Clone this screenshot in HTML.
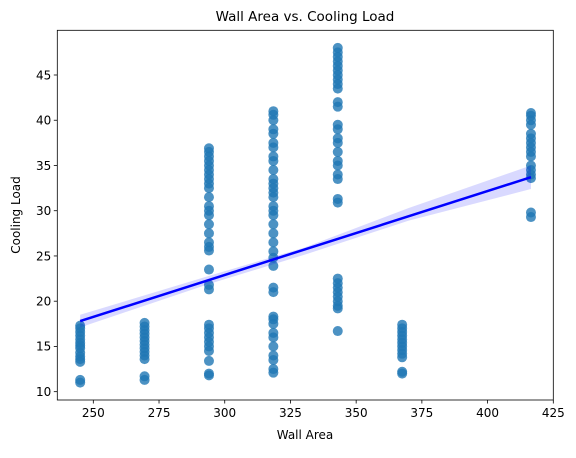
<!DOCTYPE html>
<html><head><meta charset="utf-8"><style>
body{margin:0;background:#fff;font-family:"Liberation Sans","DejaVu Sans",sans-serif}
svg text{font-family:"DejaVu Sans","Liberation Sans",sans-serif;fill:#000}
</style></head><body>
<svg id="chart" width="576" height="453">
<text x="305" y="21" font-size="13.5" text-anchor="middle">Wall Area vs. Cooling Load</text>
<g id="plot"></g>
<text x="305" y="439" font-size="12" text-anchor="middle">Wall Area</text>
<text transform="translate(20,215) rotate(-90)" font-size="12" text-anchor="middle">Cooling Load</text>
</svg>
<script>
const categories=[245,269.5,294,318.5,343,367.5,416.5];
const loads=[
[11,11.3,13.3,13.6,13.9,14.3,14.8,15.1,15.4,15.8,16.2,16.6,17.0,17.3],
[11.3,11.7,13.6,14.0,14.4,14.8,15.2,15.6,16.0,16.4,16.8,17.2,17.6],
[11.8,12.0,13.4,14.5,15.0,15.5,16.0,16.5,17.0,17.4,21.3,21.8,23.5,25.6,26.0,26.5,27.5,28.5,29.5,30.0,30.5,31.5,32.5,33.0,33.5,34.0,34.5,35.0,35.5,36.0,36.5,36.9],
[12.1,12.5,13.5,14.0,15.0,16.0,16.5,17.5,18.0,18.3,21.0,21.5,23.9,24.8,25.5,26.5,27.5,28.5,29.5,30.0,30.5,31.5,32.0,32.5,33.0,33.5,34.5,35.5,36.0,37.0,37.5,38.5,39.0,40.0,40.6,41.0],
[16.7,19.2,19.5,20,20.5,21,21.5,22,22.5,30.9,31.3,33.5,34,35,35.5,36.5,37.5,38,39,39.5,41.5,42,43.5,44,44.5,45,45.5,46,46.5,47,47.5,48],
[12.0,12.2,13.8,14.2,14.6,15.0,15.4,15.8,16.2,16.6,17.0,17.4],
[29.3,29.8,33.6,34.0,34.5,35.0,36,36.5,37,37.5,38,38.5,39.5,40,40.5,40.8]
];
const fitX=[245,416.5];
const fitY=[17.8,33.7];
const ciX=[245,294,330,370,416.5];
const ciLow=[17.1,21.9,25.1,28.9,32.4];
const ciHigh=[18.5,22.8,25.9,30.3,35.0];
const xTicks=[250,275,300,325,350,375,400,425];
const yTicks=[10,15,20,25,30,35,40,45];

const L=57.3,R=553.3,T=30.3,B=400;
const X0=236.3,X1=425,Y0=9.08,Y1=49.94;
const sx=v=>L+(v-X0)/(X1-X0)*(R-L);
const sy=v=>B-(v-Y0)/(Y1-Y0)*(B-T);
const NS="http://www.w3.org/2000/svg";
const g=document.getElementById('plot');
function mk(t,a){const e=document.createElementNS(NS,t);for(const k in a)e.setAttribute(k,a[k]);g.appendChild(e);return e;}
categories.forEach((c,i)=>{loads[i].forEach(v=>{
 const el=mk('circle',{cx:sx(c),cy:sy(v),r:5,fill:'#1f77b4','fill-opacity':0.8});
 
 
});});
let d='';ciX.forEach((x,i)=>{d+=(i?'L':'M')+sx(x)+','+sy(ciHigh[i]);});
for(let i=ciX.length-1;i>=0;i--)d+='L'+sx(ciX[i])+','+sy(ciLow[i]);
const band=mk('path',{d:d+'Z',fill:'#0000ff','fill-opacity':0.15});


const line=mk('line',{x1:sx(fitX[0]),y1:sy(fitY[0]),x2:sx(fitX[1]),y2:sy(fitY[1]),stroke:'#0000ff','stroke-width':2.5});


const fr=mk('rect',{x:L,y:T,width:R-L,height:B-T,fill:'none',stroke:'#000','stroke-width':0.8});


xTicks.forEach(t=>{const x=sx(t);
 const tk=mk('line',{x1:x,y1:B,x2:x,y2:B+3.5,stroke:'#000','stroke-width':0.8});
 
 
 const tx=mk('text',{x:x,y:B+17,'font-size':12,'text-anchor':'middle'});tx.textContent=t;
 
 
});
yTicks.forEach(t=>{const y=sy(t);
 const tk=mk('line',{x1:L-3.5,y1:y,x2:L,y2:y,stroke:'#000','stroke-width':0.8});
 
 
 const tx=mk('text',{x:L-6,y:y+4.3,'font-size':12,'text-anchor':'end'});tx.textContent=t;
 
 
});
</script>
</body></html>
